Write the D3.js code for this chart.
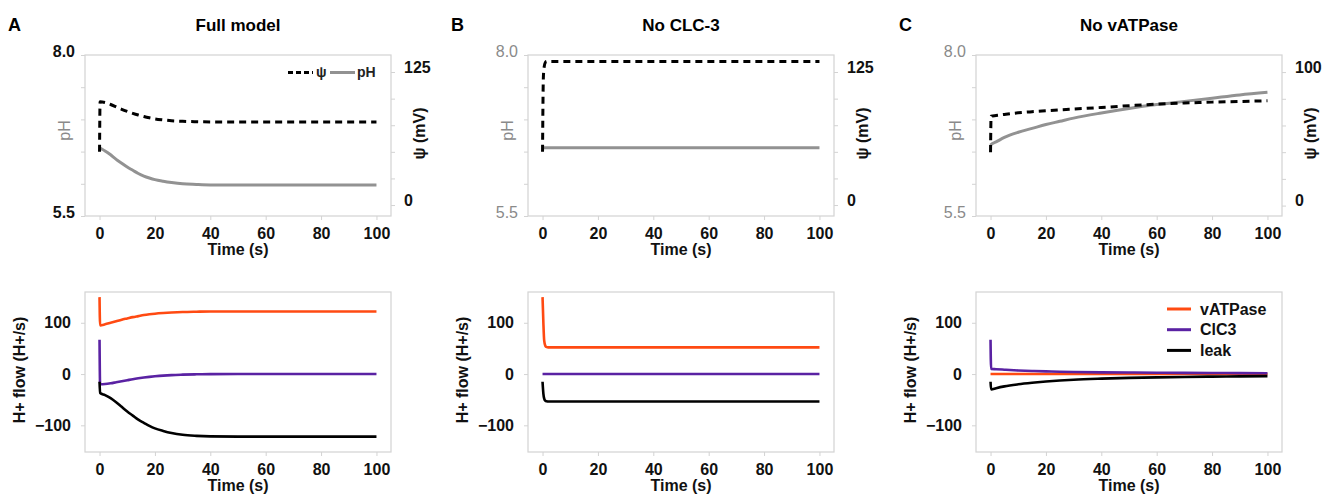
<!DOCTYPE html>
<html>
<head>
<meta charset="utf-8">
<script src="https://cdn.jsdelivr.net/npm/d3@7"></script>
<style>
  body { margin: 0; background: #fff; }
  text { font-family: "Liberation Sans", Arial, sans-serif; }
</style>
</head>
<body>
<div id="chart"></div>
<script>
// panel labels
var panelLetters = ['A', 'B', 'C'];
var panelTitles = ['Full model', 'No CLC-3', 'No vATPase'];

// ticks
var timeTicks = [0, 20, 40, 60, 80, 100];
var phTicks = [8.0, 7.5, 7.0, 6.5, 6.0, 5.5];
var phLabelTicks = [8.0, 5.5];
var psiTicksAB = [0, 25, 50, 75, 100, 125];
var psiLabelsAB = [0, 125];
var psiTicksC = [0, 20, 40, 60, 80, 100];
var psiLabelsC = [0, 100];
var flowTicks = [100, 0, -100];
var flowNames = ['vATPase', 'ClC3', 'leak'];

// A: full model
var tA = [0, 0.2, 2, 4, 6, 8, 10, 12, 14, 16, 18, 20, 23, 26, 30, 35, 40, 50, 60, 80, 100];
var psiA = [50, 97, 96.3, 94.5, 92.3, 90, 88, 86.2, 84.6, 83.2, 82, 81, 80, 79.2, 78.7, 78.3, 78.1, 78, 78, 78, 78];
var phA = [6.56, 6.555, 6.51, 6.45, 6.38, 6.32, 6.26, 6.21, 6.16, 6.12, 6.09, 6.065, 6.04, 6.02, 6.0, 5.99, 5.983, 5.98, 5.98, 5.98, 5.98];
var vatpA = [150, 95, 97, 100, 103, 106, 108.5, 111, 113, 115, 116.5, 117.7, 119, 120, 121, 121.6, 122, 122, 122, 122, 122];
var clcA = [67, -20, -19.5, -18, -16, -14, -12, -10, -8.3, -6.8, -5.5, -4.4, -3, -2, -1.2, -0.5, -0.2, 0, 0, 0, 0];
var leakA = [-15, -37, -41, -47, -55, -64, -73, -81, -89, -95, -101, -106, -111, -115, -118.5, -120.5, -121.5, -122, -122, -122, -122];

// B: no CLC-3
var tB = [0, 0.3, 0.6, 1, 1.5, 2, 5, 10, 20, 40, 60, 80, 100];
var psiB = [50, 120, 130, 134, 135, 135, 135, 135, 135, 135, 135, 135, 135];
var phB = [6.56, 6.56, 6.56, 6.56, 6.56, 6.56, 6.56, 6.56, 6.56, 6.56, 6.56, 6.56, 6.56];
var vatpB = [150, 100, 65, 55, 52.5, 52, 52, 52, 52, 52, 52, 52, 52];
var clcB = [0, 0, 0, 0, 0, 0, 0, 0, 0, 0, 0, 0, 0];
var leakB = [-15, -38, -48, -52, -53, -53.5, -53.5, -53.5, -53.5, -53.5, -53.5, -53.5, -53.5];

// C: no vATPase
var tC = [0, 0.2, 2, 5, 10, 15, 20, 25, 30, 40, 50, 60, 70, 80, 90, 100];
var psiC = [40, 67, 67.5, 68.3, 69.5, 70.3, 71, 71.7, 72.3, 73.5, 74.8, 76, 76.8, 77.5, 78, 78.5];
var phC = [6.6, 6.61, 6.65, 6.72, 6.8, 6.86, 6.92, 6.97, 7.02, 7.1, 7.17, 7.23, 7.28, 7.33, 7.38, 7.42];
var vatpC = [0, 0, 0, 0, 0, 0, 0, 0, 0, 0, 0, 0, 0, 0, 0, 0];
var clcC = [67, 10, 9.5, 8.5, 7, 6, 5.2, 4.5, 4, 3.3, 3, 2.6, 2.3, 2, 1.8, 1.5];
var leakC = [-15, -30, -27.5, -24, -20, -17, -14.5, -12.5, -11, -9, -7.5, -6.5, -5.7, -5, -4.5, -4];

var panels = [
  { t: tA, psi: psiA, ph: phA, flows: [vatpA, clcA, leakA], psiTicks: psiTicksAB, psiLabels: psiLabelsAB, psiDomain: [-10.3, 141], boldPh: true, legendTop: true },
  { t: tB, psi: psiB, ph: phB, flows: [vatpB, clcB, leakB], psiTicks: psiTicksAB, psiLabels: psiLabelsAB, psiDomain: [-10.3, 141], boldPh: false },
  { t: tC, psi: psiC, ph: phC, flows: [vatpC, clcC, leakC], psiTicks: psiTicksC, psiLabels: psiLabelsC, psiDomain: [-7.8, 112.8], boldPh: false, legendBottom: true }
];

var width = 1328, height = 496;
var lefts = [85, 528, 976];
var plotW = 306;
var top1 = 55, bot1 = 216;
var top2 = 292, bot2 = 452;
var frameColor = '#d3d3d3';
var flowColors = ['#ff4a12', '#5a22a3', '#000000'];
var phColor = '#929292';
var grey = '#8a8a8a';

var svg = d3.select('#chart')
  .append('svg')
  .attr('width', width)
  .attr('height', height)
  .style('background', '#fff');

panels.forEach(function (p, i) {
  var left = lefts[i], right = left + plotW;
  var g = svg.append('g');

  var x = d3.scaleLinear().domain([-5.25, 105.25]).range([left, right]);
  var yPh = d3.scaleLinear().domain([5.5, 8.0]).range([bot1, top1]);
  var yPsi = d3.scaleLinear().domain(p.psiDomain).range([bot1, top1]);
  var yFlow = d3.scaleLinear().domain([-152, 160]).range([bot2, top2]);

  // letter + title
  g.append('text').attr('x', left - 77).attr('y', 31)
    .attr('font-size', '18px').attr('font-weight', 'bold').text(panelLetters[i]);
  g.append('text').attr('x', left + plotW / 2).attr('y', 31)
    .attr('text-anchor', 'middle').attr('font-size', '17px').attr('font-weight', 'bold')
    .text(panelTitles[i]);

  // frames
  [[top1, bot1], [top2, bot2]].forEach(function (r) {
    g.append('rect').attr('x', left).attr('y', r[0])
      .attr('width', plotW).attr('height', r[1] - r[0])
      .attr('fill', 'none').attr('stroke', frameColor).attr('stroke-width', 1.2);
  });

  // x axes (top and bottom panels)
  [bot1, bot2].forEach(function (yb) {
    var ax = g.append('g')
      .attr('transform', 'translate(0,' + yb + ')')
      .call(d3.axisBottom(x).tickValues(timeTicks).tickSize(4).tickPadding(8));
    ax.select('.domain').remove();
    ax.selectAll('line').attr('stroke', frameColor);
    ax.selectAll('text').attr('font-size', '16px').attr('font-weight', 'bold')
      .attr('fill', '#111').attr('font-family', '"Liberation Sans", Arial, sans-serif');
    g.append('text').attr('x', x(50)).attr('y', yb + 39)
      .attr('text-anchor', 'middle').attr('font-size', '16px').attr('font-weight', 'bold')
      .attr('fill', '#111').text('Time (s)');
  });

  // pH axis (left)
  var axPh = g.append('g')
    .attr('transform', 'translate(' + left + ',0)')
    .call(d3.axisLeft(yPh).tickValues(phTicks).tickSize(4).tickPadding(6)
      .tickFormat(function (d) { return phLabelTicks.indexOf(d) >= 0 ? d3.format('.1f')(d) : ''; }));
  axPh.select('.domain').remove();
  axPh.selectAll('line').attr('stroke', frameColor);
  axPh.selectAll('text').attr('font-size', '16px')
    .attr('font-weight', p.boldPh ? 'bold' : 'normal')
    .attr('fill', p.boldPh ? '#111' : grey)
    .attr('dy', '0.1em')
    .attr('font-family', '"Liberation Sans", Arial, sans-serif');
  g.append('text')
    .attr('transform', 'translate(' + (left - 21) + ',' + ((top1 + bot1) / 2 - 5) + ') rotate(-90)')
    .attr('text-anchor', 'middle').attr('dy', '0.35em')
    .attr('font-size', '16px').attr('fill', grey).text('pH');

  // psi axis (right)
  var axPsi = g.append('g')
    .attr('transform', 'translate(' + right + ',0)')
    .call(d3.axisRight(yPsi).tickValues(p.psiTicks).tickSize(4).tickPadding(9)
      .tickFormat(function (d) { return p.psiLabels.indexOf(d) >= 0 ? d : ''; }));
  axPsi.select('.domain').remove();
  axPsi.selectAll('line').attr('stroke', frameColor);
  axPsi.selectAll('text').attr('font-size', '16px').attr('font-weight', 'bold')
    .attr('fill', '#111').attr('dy', '0.02em')
    .attr('font-family', '"Liberation Sans", Arial, sans-serif');
  g.append('text')
    .attr('transform', 'translate(' + (right + 28) + ',' + ((top1 + bot1) / 2 - 2) + ') rotate(-90)')
    .attr('text-anchor', 'middle').attr('dy', '0.35em')
    .attr('font-size', '16px').attr('font-weight', 'bold').attr('fill', '#111')
    .text('\u03c8 (mV)');

  // flow axis (left)
  var axFlow = g.append('g')
    .attr('transform', 'translate(' + left + ',0)')
    .call(d3.axisLeft(yFlow).tickValues(flowTicks).tickSize(4).tickPadding(10));
  axFlow.select('.domain').remove();
  axFlow.selectAll('line').attr('stroke', frameColor);
  axFlow.selectAll('text').attr('font-size', '16px').attr('font-weight', 'bold')
    .attr('fill', '#111').attr('font-family', '"Liberation Sans", Arial, sans-serif');
  g.append('text')
    .attr('transform', 'translate(' + (left - 66) + ',' + ((top2 + bot2) / 2 - 2) + ') rotate(-90)')
    .attr('text-anchor', 'middle').attr('dy', '0.35em')
    .attr('font-size', '16px').attr('font-weight', 'bold').attr('fill', '#111')
    .text('H+ flow (H+/s)');

  // lines, top panel
  var lineOf = function (ys, yScale) {
    return d3.line()
      .x(function (d, j) { return x(p.t[j]); })
      .y(function (d) { return yScale(d); })
      .curve(d3.curveMonotoneX)(ys);
  };
  g.append('path').attr('d', lineOf(p.ph, yPh))
    .attr('fill', 'none').attr('stroke', phColor).attr('stroke-width', 3);
  g.append('path').attr('d', lineOf(p.psi, yPsi))
    .attr('fill', 'none').attr('stroke', '#000').attr('stroke-width', 3)
    .attr('stroke-dasharray', '7,5');

  // lines, bottom panel
  p.flows.forEach(function (f, k) {
    g.append('path').attr('d', lineOf(f, yFlow))
      .attr('fill', 'none').attr('stroke', flowColors[k]).attr('stroke-width', 2.6);
  });

  // legends
  if (p.legendTop) {
    var ly = top1 + 17.5;
    g.append('line').attr('x1', left + 203).attr('x2', left + 228).attr('y1', ly).attr('y2', ly)
      .attr('stroke', '#000').attr('stroke-width', 3).attr('stroke-dasharray', '5,3');
    g.append('text').attr('x', left + 231).attr('y', ly).attr('dy', '0.35em')
      .attr('font-size', '14px').attr('font-weight', 'bold').attr('fill', '#222').text('\u03c8');
    g.append('line').attr('x1', left + 245).attr('x2', left + 270).attr('y1', ly).attr('y2', ly)
      .attr('stroke', phColor).attr('stroke-width', 3);
    g.append('text').attr('x', left + 272).attr('y', ly).attr('dy', '0.35em')
      .attr('font-size', '14px').attr('font-weight', 'bold').attr('fill', '#222').text('pH');
  }
  if (p.legendBottom) {
    flowNames.forEach(function (name, k) {
      var yy = top2 + 17 + k * 20.7;
      g.append('line').attr('x1', left + 191).attr('x2', left + 215).attr('y1', yy).attr('y2', yy)
        .attr('stroke', flowColors[k]).attr('stroke-width', 3);
      g.append('text').attr('x', left + 224).attr('y', yy).attr('dy', '0.35em')
        .attr('font-size', '16px').attr('font-weight', 'bold').attr('fill', '#111').text(name);
    });
  }
});
</script>
</body>
</html>
